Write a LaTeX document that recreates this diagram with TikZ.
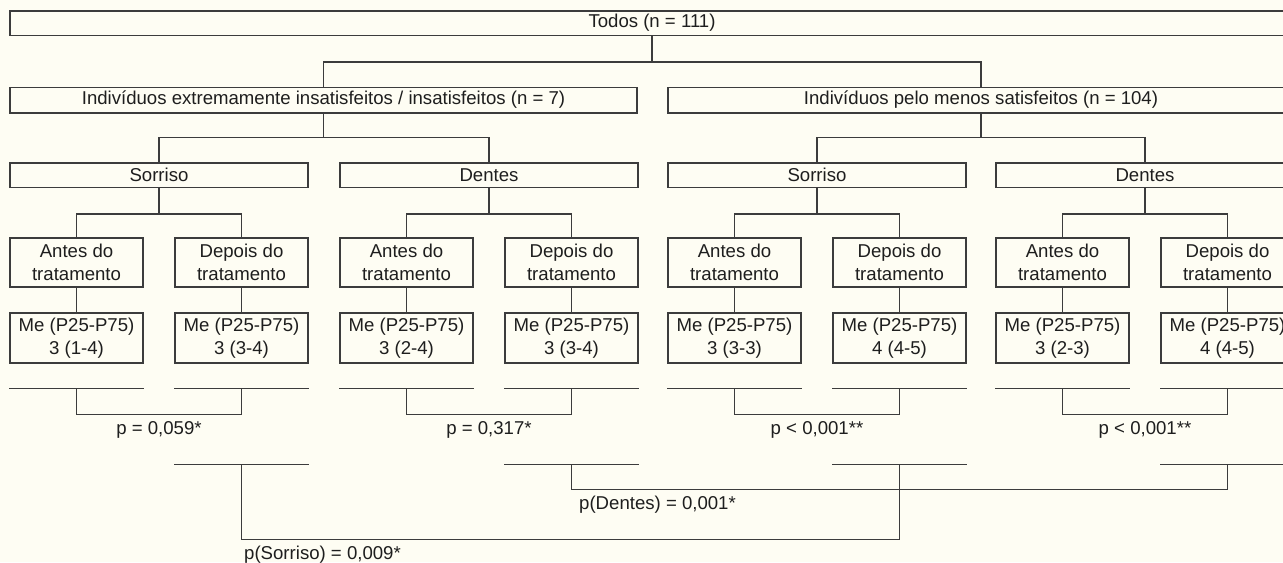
\documentclass[tikz,border=0pt]{standalone}
\usepackage{fontspec}
\setmainfont{Liberation Sans}
\usetikzlibrary{calc}
\definecolor{papel}{HTML}{FEFDF3}
\definecolor{traco}{HTML}{3C3C3C}
\definecolor{texto}{HTML}{1E1E1E}
\def\LargG{149pt}
\def\LargS{66.5pt}
\def\AltL{12.2pt}
\def\AltS{24.5pt}

\begin{document}
\begin{tikzpicture}[x=0.5pt,y=-0.5pt,font=\fontsize{9.3}{11.35}\selectfont,
  caixa/.style={draw=traco, fill=papel, line width=0.7pt, inner sep=0pt, align=center, text=texto},
  liga/.style={draw=traco, line width=0.7pt},
  rotulo/.style={inner xsep=1pt, inner ysep=3pt, text=texto}]
  % background
  \fill [papel] (0,0) rectangle (1283,562);
  \useasboundingbox (0,0) rectangle (1283,562);
  % top levels
  \node[caixa, minimum width=642pt, minimum height=\AltL] (todos) at (652,23) {Todos (n = 111)};
  \node[caixa, minimum width=313.5pt, minimum height=12.8pt] (insat) at (323.5,100)
    {Indivíduos extremamente insatisfeitos / insatisfeitos (n = 7)};
  \node[caixa, minimum width=313pt, minimum height=12.8pt] (sat) at (981,100)
    {Indivíduos pelo menos satisfeitos (n = 104)};
  \draw[liga] (todos.south) -- ++(0,26) coordinate (j0);
  \draw[liga] (insat.north) |- (j0) -| (sat.north);
  %
  \foreach \g/\xo/\nome/\antes/\depois/\p in
    {1/10/Sorriso/3 (1-4)/3 (3-4)/{p = 0,059*},
     2/340/Dentes/3 (2-4)/3 (3-4)/{p = 0,317*},
     3/668/Sorriso/3 (3-3)/4 (4-5)/{p < 0,001**},
     4/996/Dentes/3 (2-3)/4 (4-5)/{p < 0,001**}}
    {
      \node[caixa, minimum width=\LargG, minimum height=\AltL] (g\g) at (\xo+149,175) {\nome};
      \node[caixa, minimum width=\LargS, minimum height=\AltS] (a\g) at (\xo+66.5,262.5) {Antes do\\tratamento};
      \node[caixa, minimum width=\LargS, minimum height=\AltS] (d\g) at (\xo+231.5,262.5) {Depois do\\tratamento};
      \node[caixa, minimum width=\LargS, minimum height=25pt] (ma\g) at (\xo+66.5,338) {Me (P25-P75)\\\antes};
      \node[caixa, minimum width=\LargS, minimum height=25pt] (md\g) at (\xo+231.5,338) {Me (P25-P75)\\\depois};
      % links
      \draw[liga] (g\g.south) -- ++(0,26) coordinate (jg\g);
      \draw[liga] (a\g.north) |- (jg\g) -| (d\g.north);
      \draw[liga] (a\g) -- (ma\g);
      \draw[liga] (d\g) -- (md\g);
      % before / after comparison
      \coordinate (ba\g) at ($(ma\g.south)+(0,25)$);
      \coordinate (bd\g) at ($(md\g.south)+(0,25)$);
      \draw[liga] (ma\g.west |- ba\g) -- (ma\g.east |- ba\g);
      \draw[liga] (md\g.west |- bd\g) -- (md\g.east |- bd\g);
      \draw[liga] (ba\g) -- ++(0,26) -| node[rotulo, pos=0.25, below] {\p} (bd\g);
      % after lines
      \coordinate (cd\g) at ($(md\g.south)+(0,101)$);
      \draw[liga] (md\g.west |- cd\g) -- (md\g.east |- cd\g);
    }
  \draw[liga] (insat.south) -- ++(0,24) coordinate (j1);
  \draw[liga] (g1.north) |- (j1) -| (g2.north);
  \draw[liga] (sat.south) -- ++(0,24) coordinate (j2);
  \draw[liga] (g3.north) |- (j2) -| (g4.north);
  % groups
  \draw[liga] (cd2) -- ++(0,25) node[rotulo, anchor=north west, xshift=2.5pt] {p(Dentes) = 0,001*} -| (cd4);
  \draw[liga] (cd1) -- ++(0,75) node[rotulo, anchor=north west] {p(Sorriso) = 0,009*} -| (cd3);
\end{tikzpicture}
\end{document}
